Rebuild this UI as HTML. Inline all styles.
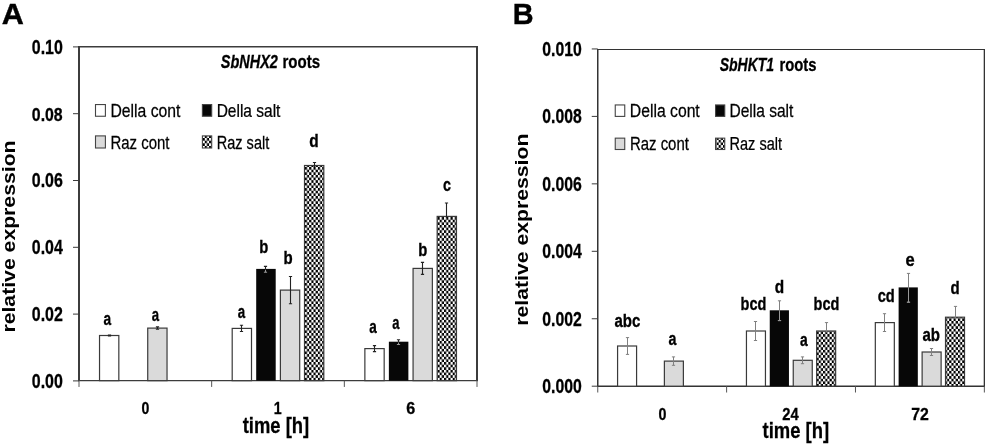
<!DOCTYPE html>
<html><head><meta charset="utf-8"><title>Figure</title>
<style>
html,body{margin:0;padding:0;background:#fff;}
svg{display:block;will-change:transform;filter:grayscale(1) blur(0.4px);}
text{font-family:"Liberation Sans",sans-serif;fill:#000;}
.lb{stroke:#000;stroke-width:0.35px;}
.ab{stroke:#000;stroke-width:0.4px;}
.tt{stroke:#000;stroke-width:0.3px;}
.lg{stroke:#000;stroke-width:0.25px;}
</style></head><body>
<svg width="985" height="444" viewBox="0 0 985 444">
<defs>
<pattern id="chk" width="4.35" height="5.27" patternUnits="userSpaceOnUse" x="0.3" y="1.02">
<rect width="4.35" height="5.27" fill="#fff"/>
<rect x="2.175" y="0" width="2.175" height="2.635" fill="#000"/>
<rect x="0" y="2.635" width="2.175" height="2.635" fill="#000"/>
</pattern>
<pattern id="chkB" width="4.35" height="5.25" patternUnits="userSpaceOnUse" x="0.9" y="0.75">
<rect width="4.35" height="5.25" fill="#fff"/>
<rect x="2.175" y="0" width="2.175" height="2.625" fill="#000"/>
<rect x="0" y="2.625" width="2.175" height="2.625" fill="#000"/>
</pattern>
<pattern id="chk2" width="3.4" height="3.4" patternUnits="userSpaceOnUse">
<rect width="3.4" height="3.4" fill="#fff"/><rect width="1.7" height="1.7" fill="#000"/><rect x="1.7" y="1.7" width="1.7" height="1.7" fill="#000"/></pattern>
</defs>
<rect width="985" height="444" fill="#fff"/>
<text transform="translate(1.69 24.10) scale(1.0440 1)" font-size="29.3" font-weight="bold" class="ab">A</text>
<text transform="translate(512.87 24.10) scale(0.9854 1)" font-size="29.3" font-weight="bold" class="ab">B</text>
<path d="M78 46H478V381.3H78Z M80 47.6V380H476V47.6Z" fill="#3c3c3c" fill-rule="evenodd"/>
<line x1="73" y1="380.90" x2="79" y2="380.90" stroke="#3a3a3a" stroke-width="1"/>
<text transform="translate(31.82 387.70) scale(0.8268 1)" font-size="19.3" font-weight="bold" class="tt">0.00</text>
<line x1="73" y1="314.10" x2="79" y2="314.10" stroke="#3a3a3a" stroke-width="1"/>
<text transform="translate(31.82 320.90) scale(0.8268 1)" font-size="19.3" font-weight="bold" class="tt">0.02</text>
<line x1="73" y1="247.30" x2="79" y2="247.30" stroke="#3a3a3a" stroke-width="1"/>
<text transform="translate(31.82 254.10) scale(0.8257 1)" font-size="19.3" font-weight="bold" class="tt">0.04</text>
<line x1="73" y1="180.50" x2="79" y2="180.50" stroke="#3a3a3a" stroke-width="1"/>
<text transform="translate(31.82 187.30) scale(0.8268 1)" font-size="19.3" font-weight="bold" class="tt">0.06</text>
<line x1="73" y1="113.70" x2="79" y2="113.70" stroke="#3a3a3a" stroke-width="1"/>
<text transform="translate(31.82 120.50) scale(0.8224 1)" font-size="19.3" font-weight="bold" class="tt">0.08</text>
<line x1="73" y1="46.90" x2="79" y2="46.90" stroke="#3a3a3a" stroke-width="1"/>
<text transform="translate(31.82 53.70) scale(0.8268 1)" font-size="19.3" font-weight="bold" class="tt">0.10</text>
<line x1="79.00" y1="380.65" x2="79.00" y2="386.95" stroke="#555" stroke-width="1"/>
<line x1="211.67" y1="380.65" x2="211.67" y2="386.95" stroke="#555" stroke-width="1"/>
<line x1="344.33" y1="380.65" x2="344.33" y2="386.95" stroke="#555" stroke-width="1"/>
<line x1="477.00" y1="380.65" x2="477.00" y2="386.95" stroke="#555" stroke-width="1"/>
<rect x="99.53" y="335.50" width="19.3" height="45.15" fill="#ffffff" stroke="#3a3a3a" stroke-width="1.2"/>
<path d="M109.50 335.10V335.90M107.90 335.10h3.2M107.90 335.90h3.2" fill="none" stroke="#222" stroke-width="1.1"/>
<text transform="translate(103.53 325.00) scale(0.7187 1)" font-size="19.1" font-weight="bold" class="lb">a</text>
<rect x="147.73" y="328.10" width="19.3" height="52.55" fill="#d9dadb" stroke="#3a3a3a" stroke-width="1.2"/>
<path d="M157.50 326.90V329.30M155.90 326.90h3.2M155.90 329.30h3.2" fill="none" stroke="#222" stroke-width="1.1"/>
<text transform="translate(151.64 320.60) scale(0.6901 1)" font-size="19.1" font-weight="bold" class="lb">a</text>
<rect x="232.20" y="328.40" width="19.3" height="52.25" fill="#ffffff" stroke="#3a3a3a" stroke-width="1.2"/>
<path d="M241.50 325.30V331.50M239.90 325.30h3.2M239.90 331.50h3.2" fill="none" stroke="#222" stroke-width="1.1"/>
<text transform="translate(237.63 317.50) scale(0.6997 1)" font-size="19.1" font-weight="bold" class="lb">a</text>
<rect x="256.20" y="268.90" width="19.5" height="111.75" fill="#050708"/>
<path d="M265.50 266.40V272.20M263.90 266.40h3.2M263.90 272.20h3.2" fill="none" stroke="#222" stroke-width="1.1"/>
<path d="M265.50 269.90V272.20M263.90 272.20h3.2" fill="none" stroke="#999" stroke-width="1"/>
<text transform="translate(259.31 253.20) scale(0.7751 1)" font-size="19.1" font-weight="bold" class="lb">b</text>
<rect x="280.40" y="290.10" width="19.3" height="90.55" fill="#d9dadb" stroke="#3a3a3a" stroke-width="1.2"/>
<path d="M290.50 276.50V303.70M288.90 276.50h3.2M288.90 303.70h3.2" fill="none" stroke="#222" stroke-width="1.1"/>
<text transform="translate(283.40 263.90) scale(0.7853 1)" font-size="19.1" font-weight="bold" class="lb">b</text>
<rect x="304.50" y="165.50" width="19.3" height="215.15" fill="url(#chk)" stroke="#3a3a3a" stroke-width="1.2"/>
<path d="M314.50 162.50V167.00M312.90 162.50h3.2" fill="none" stroke="#222" stroke-width="1.1"/>
<text transform="translate(309.18 147.20) scale(0.8059 1)" font-size="19.1" font-weight="bold" class="lb">d</text>
<rect x="364.87" y="348.60" width="19.3" height="32.05" fill="#ffffff" stroke="#3a3a3a" stroke-width="1.2"/>
<path d="M374.50 345.60V351.60M372.90 345.60h3.2M372.90 351.60h3.2" fill="none" stroke="#222" stroke-width="1.1"/>
<text transform="translate(369.23 332.70) scale(0.7092 1)" font-size="19.1" font-weight="bold" class="lb">a</text>
<rect x="388.87" y="341.70" width="19.5" height="38.95" fill="#050708"/>
<path d="M398.50 339.70V344.50M396.90 339.70h3.2M396.90 344.50h3.2" fill="none" stroke="#222" stroke-width="1.1"/>
<path d="M398.50 342.70V344.50M396.90 344.50h3.2" fill="none" stroke="#999" stroke-width="1"/>
<text transform="translate(392.24 328.70) scale(0.6806 1)" font-size="19.1" font-weight="bold" class="lb">a</text>
<rect x="413.07" y="268.40" width="19.3" height="112.25" fill="#d9dadb" stroke="#3a3a3a" stroke-width="1.2"/>
<path d="M422.50 262.40V274.40M420.90 262.40h3.2M420.90 274.40h3.2" fill="none" stroke="#222" stroke-width="1.1"/>
<text transform="translate(418.21 255.70) scale(0.7751 1)" font-size="19.1" font-weight="bold" class="lb">b</text>
<rect x="437.17" y="216.40" width="19.3" height="164.25" fill="url(#chk)" stroke="#3a3a3a" stroke-width="1.2"/>
<path d="M446.50 203.00V217.90M444.90 203.00h3.2" fill="none" stroke="#222" stroke-width="1.1"/>
<text transform="translate(442.97 190.60) scale(0.7487 1)" font-size="19.1" font-weight="bold" class="lb">c</text>
<text transform="translate(141.38 414.30) scale(0.8140 1)" font-size="17.3" font-weight="bold" class="tt">0</text>
<text transform="translate(273.74 414.30) scale(0.8240 1)" font-size="17.3" font-weight="bold" class="tt">1</text>
<text transform="translate(406.32 414.30) scale(0.9319 1)" font-size="17.3" font-weight="bold" class="tt">6</text>
<text transform="translate(220.76 68.40) scale(0.7957 1)" font-size="18.2" font-weight="bold" font-style="italic" class="tt">SbNHX2</text>
<text transform="translate(282.40 68.40) scale(0.8274 1)" font-size="18.2" font-weight="bold" class="tt">roots</text>
<rect x="95.50" y="104.55" width="9.9" height="11.7" fill="#fff" stroke="#444" stroke-width="1.1"/>
<rect x="202.40" y="104.55" width="9.3" height="11.7" fill="#050708" stroke="#444" stroke-width="1.1"/>
<rect x="95.50" y="135.90" width="9.9" height="12.1" fill="#d9dadb" stroke="#444" stroke-width="1.1"/>
<rect x="202.40" y="135.90" width="9.3" height="12.1" fill="url(#chk)" stroke="#444" stroke-width="1.1"/>
<text transform="translate(110.44 116.80) scale(0.8897 1)" font-size="17.7" class="lg">Della cont</text>
<text transform="translate(216.66 116.80) scale(0.8765 1)" font-size="17.7" class="lg">Della salt</text>
<text transform="translate(110.50 148.80) scale(0.8456 1)" font-size="17.7" class="lg">Raz cont</text>
<text transform="translate(216.74 148.80) scale(0.8216 1)" font-size="17.7" class="lg">Raz salt</text>
<text transform="translate(242.72 433.00) scale(0.8073 1)" font-size="22.8" font-weight="bold" class="tt">time [h]</text>
<text transform="translate(14.70 332.57) rotate(-90) scale(1.1409 1)" font-size="18.6" font-weight="bold">relative expression</text>
<path d="M597 48.9H985V386.9H597Z M598.5 50V385.5H983.7V50Z" fill="#333" fill-rule="evenodd"/>
<line x1="591.75" y1="386.20" x2="597.75" y2="386.20" stroke="#3a3a3a" stroke-width="1"/>
<text transform="translate(542.28 393.00) scale(0.8188 1)" font-size="19.3" font-weight="bold" class="tt">0.000</text>
<line x1="591.75" y1="318.75" x2="597.75" y2="318.75" stroke="#3a3a3a" stroke-width="1"/>
<text transform="translate(542.28 325.55) scale(0.8188 1)" font-size="19.3" font-weight="bold" class="tt">0.002</text>
<line x1="591.75" y1="251.30" x2="597.75" y2="251.30" stroke="#3a3a3a" stroke-width="1"/>
<text transform="translate(542.28 258.10) scale(0.8181 1)" font-size="19.3" font-weight="bold" class="tt">0.004</text>
<line x1="591.75" y1="183.85" x2="597.75" y2="183.85" stroke="#3a3a3a" stroke-width="1"/>
<text transform="translate(542.28 190.65) scale(0.8188 1)" font-size="19.3" font-weight="bold" class="tt">0.006</text>
<line x1="591.75" y1="116.40" x2="597.75" y2="116.40" stroke="#3a3a3a" stroke-width="1"/>
<text transform="translate(542.28 123.20) scale(0.8154 1)" font-size="19.3" font-weight="bold" class="tt">0.008</text>
<line x1="591.75" y1="48.95" x2="597.75" y2="48.95" stroke="#3a3a3a" stroke-width="1"/>
<text transform="translate(542.28 55.75) scale(0.8188 1)" font-size="19.3" font-weight="bold" class="tt">0.010</text>
<line x1="597.75" y1="386.2" x2="597.75" y2="392.5" stroke="#555" stroke-width="1"/>
<line x1="726.62" y1="386.2" x2="726.62" y2="392.5" stroke="#555" stroke-width="1"/>
<line x1="855.48" y1="386.2" x2="855.48" y2="392.5" stroke="#555" stroke-width="1"/>
<line x1="984.35" y1="386.2" x2="984.35" y2="392.5" stroke="#555" stroke-width="1"/>
<rect x="617.58" y="346.00" width="19.0" height="40.20" fill="#ffffff" stroke="#3a3a3a" stroke-width="1.2"/>
<path d="M627.50 337.60V354.40M625.90 337.60h3.2M625.90 354.40h3.2" fill="none" stroke="#808080" stroke-width="1.0"/>
<text transform="translate(614.50 326.90) scale(0.7852 1)" font-size="19.1" font-weight="bold" class="lb">abc</text>
<rect x="664.38" y="361.10" width="19.0" height="25.10" fill="#d9dadb" stroke="#3a3a3a" stroke-width="1.2"/>
<path d="M673.50 356.90V365.30M671.90 356.90h3.2M671.90 365.30h3.2" fill="none" stroke="#808080" stroke-width="1.0"/>
<text transform="translate(668.51 344.60) scale(0.7473 1)" font-size="19.1" font-weight="bold" class="lb">a</text>
<rect x="746.45" y="331.00" width="19.0" height="55.20" fill="#ffffff" stroke="#3a3a3a" stroke-width="1.2"/>
<path d="M755.50 321.50V340.50M753.90 321.50h3.2M753.90 340.50h3.2" fill="none" stroke="#808080" stroke-width="1.0"/>
<text transform="translate(740.53 309.60) scale(0.7599 1)" font-size="19.1" font-weight="bold" class="lb">bcd</text>
<rect x="769.75" y="310.30" width="19.2" height="75.90" fill="#050708"/>
<path d="M779.50 300.80V320.60M777.90 300.80h3.2M777.90 320.60h3.2" fill="none" stroke="#808080" stroke-width="1.0"/>
<path d="M779.50 311.30V320.60M777.90 320.60h3.2" fill="none" stroke="#999" stroke-width="1"/>
<text transform="translate(774.78 293.40) scale(0.8059 1)" font-size="19.1" font-weight="bold" class="lb">d</text>
<rect x="793.25" y="360.30" width="19.0" height="25.90" fill="#d9dadb" stroke="#3a3a3a" stroke-width="1.2"/>
<path d="M802.50 356.90V363.70M800.90 356.90h3.2M800.90 363.70h3.2" fill="none" stroke="#808080" stroke-width="1.0"/>
<text transform="translate(800.12 345.80) scale(0.7282 1)" font-size="19.1" font-weight="bold" class="lb">a</text>
<rect x="816.65" y="331.00" width="19.0" height="55.20" fill="url(#chkB)" stroke="#3a3a3a" stroke-width="1.2"/>
<path d="M826.50 322.60V332.50M824.90 322.60h3.2" fill="none" stroke="#808080" stroke-width="1.0"/>
<text transform="translate(813.53 309.60) scale(0.7599 1)" font-size="19.1" font-weight="bold" class="lb">bcd</text>
<rect x="875.32" y="322.60" width="19.0" height="63.60" fill="#ffffff" stroke="#3a3a3a" stroke-width="1.2"/>
<path d="M884.50 313.70V331.50M882.90 313.70h3.2M882.90 331.50h3.2" fill="none" stroke="#808080" stroke-width="1.0"/>
<text transform="translate(877.66 302.20) scale(0.7663 1)" font-size="19.1" font-weight="bold" class="lb">cd</text>
<rect x="898.62" y="287.40" width="19.2" height="98.80" fill="#050708"/>
<path d="M908.50 273.40V302.20M906.90 273.40h3.2M906.90 302.20h3.2" fill="none" stroke="#808080" stroke-width="1.0"/>
<path d="M908.50 288.40V302.20M906.90 302.20h3.2" fill="none" stroke="#999" stroke-width="1"/>
<text transform="translate(905.61 266.30) scale(0.8639 1)" font-size="19.1" font-weight="bold" class="lb">e</text>
<rect x="922.12" y="352.00" width="19.0" height="34.20" fill="#d9dadb" stroke="#3a3a3a" stroke-width="1.2"/>
<path d="M931.50 348.50V355.50M929.90 348.50h3.2M929.90 355.50h3.2" fill="none" stroke="#808080" stroke-width="1.0"/>
<text transform="translate(922.40 341.30) scale(0.7881 1)" font-size="19.1" font-weight="bold" class="lb">ab</text>
<rect x="945.52" y="317.20" width="19.0" height="69.00" fill="url(#chkB)" stroke="#3a3a3a" stroke-width="1.2"/>
<path d="M955.50 306.40V318.70M953.90 306.40h3.2" fill="none" stroke="#808080" stroke-width="1.0"/>
<text transform="translate(950.40 294.40) scale(0.7853 1)" font-size="19.1" font-weight="bold" class="lb">d</text>
<text transform="translate(658.47 419.90) scale(0.8258 1)" font-size="17.3" font-weight="bold" class="tt">0</text>
<text transform="translate(782.36 419.90) scale(0.8515 1)" font-size="17.3" font-weight="bold" class="tt">24</text>
<text transform="translate(911.17 419.90) scale(0.9149 1)" font-size="17.3" font-weight="bold" class="tt">72</text>
<text transform="translate(719.66 70.50) scale(0.7698 1)" font-size="18.2" font-weight="bold" font-style="italic" class="tt">SbHKT1</text>
<text transform="translate(779.51 70.50) scale(0.8137 1)" font-size="18.2" font-weight="bold" class="tt">roots</text>
<rect x="615.25" y="104.95" width="9.5" height="11.45" fill="#fff" stroke="#444" stroke-width="1.1"/>
<rect x="715.55" y="104.95" width="9.2" height="11.45" fill="#050708" stroke="#444" stroke-width="1.1"/>
<rect x="615.25" y="138.15" width="9.5" height="11.35" fill="#d9dadb" stroke="#444" stroke-width="1.1"/>
<rect x="715.55" y="138.15" width="9.2" height="11.35" fill="url(#chkB)" stroke="#444" stroke-width="1.1"/>
<text transform="translate(629.84 116.90) scale(0.8884 1)" font-size="17.7" class="lg">Della cont</text>
<text transform="translate(729.41 116.90) scale(0.8786 1)" font-size="17.7" class="lg">Della salt</text>
<text transform="translate(629.90 150.00) scale(0.8456 1)" font-size="17.7" class="lg">Raz cont</text>
<text transform="translate(729.49 150.00) scale(0.8224 1)" font-size="17.7" class="lg">Raz salt</text>
<text transform="translate(762.52 438.20) scale(0.8097 1)" font-size="22.8" font-weight="bold" class="tt">time [h]</text>
<text transform="translate(528.00 325.67) rotate(-90) scale(1.1403 1)" font-size="18.6" font-weight="bold">relative expression</text>
</svg></body></html>
